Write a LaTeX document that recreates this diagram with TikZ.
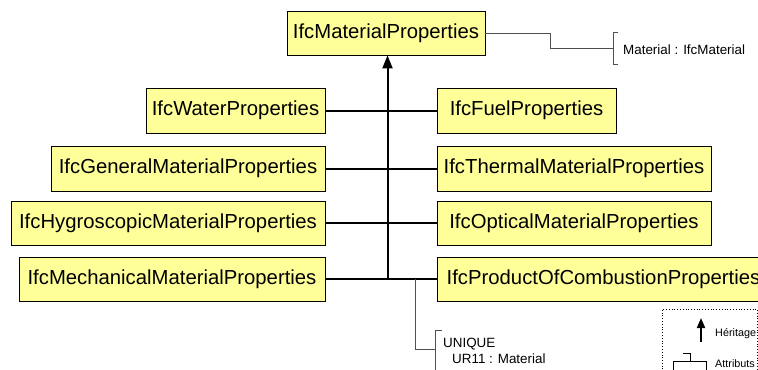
\documentclass[tikz,border=0pt]{standalone}
\usepackage{fontspec}
\setmainfont{Liberation Sans}
\usetikzlibrary{arrows.meta}
\definecolor{boxfill}{RGB}{255,255,153}
\definecolor{attrgray}{RGB}{80,80,80}
\begin{document}
\begin{tikzpicture}[x=1bp,y=-1bp,
  cls/.style={draw=black, line width=0.8bp, fill=boxfill, inner sep=0pt,
    font=\fontsize{20.3bp}{24bp}\selectfont},
  inh/.style={line width=2bp, black},
  attr/.style={line width=1bp, attrgray},
  lbl/.style={inner sep=0pt, anchor=base west, font=\fontsize{13.4bp}{16bp}\selectfont},
  leg/.style={inner sep=0pt, anchor=base west, font=\fontsize{10.8bp}{13bp}\selectfont}]
\useasboundingbox (0,0) rectangle (758,369);
\clip (0,0) rectangle (758,369);

% class boxes
\node[cls, minimum width=198bp, minimum height=44bp] (mat) at (386,33) {IfcMaterialProperties};
\node[cls, minimum width=179bp, minimum height=45bp] (water) at (235.5,110.5) {IfcWaterProperties};
\node[cls, minimum width=274bp, minimum height=45bp] (general) at (188,168.5) {IfcGeneralMaterialProperties};
\node[cls, minimum width=314bp, minimum height=44bp] (hygro) at (168,223) {IfcHygroscopicMaterialProperties};
\node[cls, minimum width=306bp, minimum height=44bp] (mech) at (172,279) {IfcMechanicalMaterialProperties};
\node[cls, minimum width=179bp, minimum height=45bp] (fuel) at (526.5,110.5) {IfcFuelProperties};
\node[cls, minimum width=274bp, minimum height=45bp] (thermal) at (574,168.5) {IfcThermalMaterialProperties};
\node[cls, minimum width=274bp, minimum height=44bp] (optical) at (574,223) {IfcOpticalMaterialProperties};
\node[cls, minimum width=333bp, minimum height=44bp] (poc) at (603.5,279) {IfcProductOfCombustionProperties};

% inheritance tree
\coordinate (j) at (387.5,279);
\draw[inh] (water.east) -- (fuel.west);
\draw[inh] (general.east) -- (thermal.west);
\draw[inh] (hygro.east) -- (optical.west);
\draw[inh] (mech.east) -- (poc.west);
\draw[inh, -{Triangle[length=13bp,width=10bp]}] (j) -- (j |- mat.south);

% attribute of IfcMaterialProperties
\coordinate (matbr) at (613,48);
\draw[attr] (mat.east) -- ++(65,0) |- (matbr);
\draw[attr] (618,32) -- (613,32) -- (613,64) -- (618,64);
\node[lbl] (matattr) at (623,54) {Material : IfcMaterial};

% unique rule
\coordinate (u0) at (415,279);
\coordinate (ubr) at (435,349);
\draw[attr] (u0) |- (ubr);
\draw[attr] (442,330) -- (435,330) -- (435,380);
\node[lbl] (uniq) at (443,347) {UNIQUE};
\node[lbl] (ur11) at (452,363) {UR11 : Material};

% legend
\draw[dotted, line width=0.8bp] (662,400) -- (662,309) -- (757,309) -- (757,400);
\draw[line width=2bp, -{Triangle[length=10bp,width=8bp]}] (701,342) -- (701,318);
\node[leg] (her) at (715,336) {Héritage};
\draw[line width=1bp] (673,375) -- (673,361) -- (706,361) -- (706,375);
\draw[line width=1bp] (683,353) -- (690,353) -- (690,361);
\node[leg] (attrib) at (715,367) {Attributs};
\end{tikzpicture}
\end{document}
